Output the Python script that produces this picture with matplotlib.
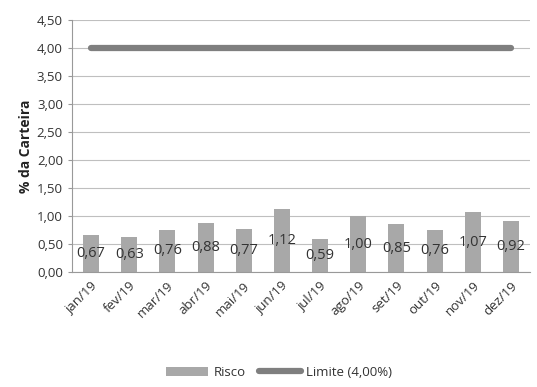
import matplotlib
matplotlib.use("Agg")
import matplotlib.pyplot as plt
import numpy as np

meses = ["jan/19", "fev/19", "mar/19", "abr/19", "mai/19", "jun/19",
         "jul/19", "ago/19", "set/19", "out/19", "nov/19", "dez/19"]
risco = [0.67, 0.63, 0.76, 0.88, 0.77, 1.12, 0.59, 1.00, 0.85, 0.76, 1.07, 0.92]
limite = [4.00] * 12
yticks = [0.0, 0.5, 1.0, 1.5, 2.0, 2.5, 3.0, 3.5, 4.0, 4.5]

plt.rcParams["font.family"] = ["Open Sans", "DejaVu Sans"]

fig = plt.figure(figsize=(5.37, 3.87), dpi=100)
ax = fig.add_axes([0.134, 0.297, 0.853, 0.651])

x = np.arange(len(meses))
bars = ax.bar(x, risco, width=0.42, color="#a8a8a8", label="Risco", zorder=2)
line, = ax.plot(x, limite, color="#7f7f7f", linewidth=4.5,
                solid_capstyle="round", label="Limite (4,00%)", zorder=3)

for xi, v in zip(x, risco):
    ax.text(xi, v / 2, f"{v:.2f}".replace(".", ","), ha="center", va="center",
            fontsize=10.5, color="#333333", zorder=4)

ax.set_xlim(-0.5, len(meses) - 0.5)
ax.set_ylim(0, 4.5)
ax.set_yticks(yticks)
ax.set_yticklabels([f"{t:.2f}".replace(".", ",") for t in yticks],
                   fontsize=9.5, color="#333333")
ax.set_xticks(x)
ax.set_xticklabels(meses, rotation=45, ha="right", rotation_mode="anchor",
                   fontsize=9.5, color="#333333")
ax.tick_params(axis="x", length=0, pad=5)
ax.tick_params(axis="y", length=3, color="#999999")
ax.grid(axis="y", color="#bfbfbf", linewidth=0.8, zorder=0)
ax.set_axisbelow(True)
for side in ("top", "right"):
    ax.spines[side].set_visible(False)
ax.spines["left"].set_color("#999999")
ax.spines["bottom"].set_color("#999999")
ax.set_ylabel("% da Carteira", fontsize=10, fontweight="bold", color="#222222",
              labelpad=3)

fig.legend([bars, line], ["Risco", "Limite (4,00%)"], loc="lower center",
           bbox_to_anchor=(0.52, -0.01), ncol=2, frameon=False, fontsize=9.5,
           handlelength=3.2, columnspacing=1.0, handletextpad=0.4,
           labelcolor="#333333")

fig.savefig("out.png", dpi=100)
